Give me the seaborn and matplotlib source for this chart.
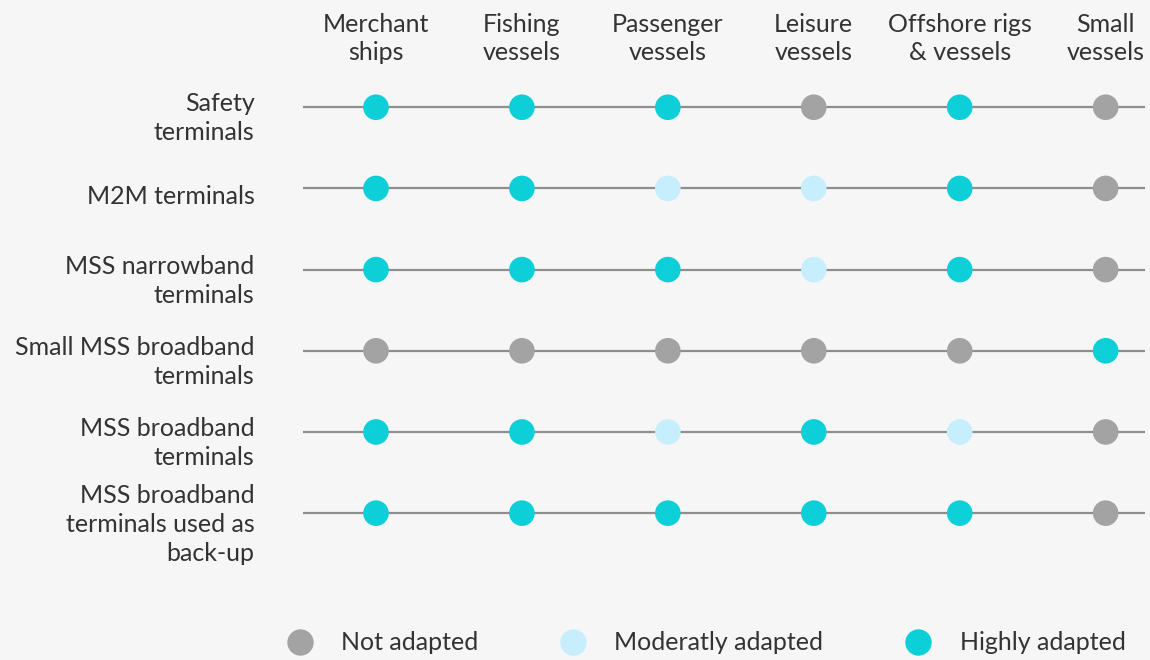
import pandas as pd
import matplotlib.pyplot as plt
import matplotlib.transforms as mtransforms
import seaborn as sns
from matplotlib.lines import Line2D

# ── Data ──────────────────────────────────────────────────────
vessels = ['Merchant\nships', 'Fishing\nvessels', 'Passenger\nvessels',
           'Leisure\nvessels', 'Offshore rigs\n& vessels', 'Small\nvessels']
terminals = ['Safety\nterminals', 'M2M terminals', 'MSS narrowband\nterminals',
             'Small MSS broadband\nterminals', 'MSS broadband\nterminals',
             'MSS broadband\nterminals used as\nback-up']
levels = ['Not adapted', 'Moderatly adapted', 'Highly adapted']

# H = highly, M = moderately, N = not adapted
adaptation = [
    ['H', 'H', 'H', 'N', 'H', 'N'],
    ['H', 'H', 'M', 'M', 'H', 'N'],
    ['H', 'H', 'H', 'M', 'H', 'N'],
    ['N', 'N', 'N', 'N', 'N', 'H'],
    ['H', 'H', 'M', 'H', 'M', 'N'],
    ['H', 'H', 'H', 'H', 'H', 'N'],
]
code_to_level = {'N': levels[0], 'M': levels[1], 'H': levels[2]}

rows = []
for i, term in enumerate(terminals):
    for j, ves in enumerate(vessels):
        rows.append({'terminal': i, 'vessel': j,
                     'level': code_to_level[adaptation[i][j]]})
df = pd.DataFrame(rows)

colors = {'Not adapted': '#a3a3a3', 'Moderatly adapted': '#c6eefc',
          'Highly adapted': '#0ccfd8'}

# ── Plot ──────────────────────────────────────────────────────
sns.set_style('white')
plt.rcParams['font.family'] = ['Lato', 'DejaVu Sans']
text_color = '#333333'

fig = plt.figure(figsize=(11.5, 6.6), dpi=100, facecolor='#f6f6f7')
ax = fig.add_axes([0.2635, 0.161, 0.7322, 0.738])
ax.set_facecolor('none')

for i in range(len(terminals)):
    ax.axhline(i, color='#8e8e8e', linewidth=1.6, zorder=1)

sns.scatterplot(data=df, x='vessel', y='terminal', hue='level',
                palette=colors, hue_order=levels, s=340, linewidth=0,
                legend=False, ax=ax, zorder=3)

ax.set_xlim(-0.5, 5.27)
ax.set_ylim(len(terminals) - 0.5, -0.5)
ax.set_xticks(range(len(vessels)))
ax.set_xticklabels(vessels, fontsize=18, color=text_color, linespacing=1.25)
ax.xaxis.tick_top()
ax.set_yticks(range(len(terminals)))
ax.set_yticklabels(terminals, fontsize=18, color=text_color,
                   ha='right', linespacing=1.32)
ax.tick_params(axis='x', length=0, pad=2)
ax.tick_params(axis='y', length=0, pad=35)
ax.set_xlabel('')
ax.set_ylabel('')
for spine in ax.spines.values():
    spine.set_visible(False)

# row labels sit a little below their line in the original
shift = mtransforms.ScaledTranslation(0, -6 / 100, fig.dpi_scale_trans)
for lbl in ax.get_yticklabels():
    lbl.set_transform(lbl.get_transform() + shift)

handles = [Line2D([0], [0], marker='o', linestyle='', markersize=19,
                  markerfacecolor=colors[lv], markeredgewidth=0)
           for lv in levels]
leg = fig.legend(handles, levels, loc='center left',
                 bbox_to_anchor=(0.230, 1 - 643 / 660),
                 ncol=3, frameon=False, fontsize=18, columnspacing=3.3,
                 handlelength=1.0, handletextpad=1.15)
for t in leg.get_texts():
    t.set_color(text_color)

plt.savefig('out.png', dpi=100, facecolor=fig.get_facecolor())
plt.close()
